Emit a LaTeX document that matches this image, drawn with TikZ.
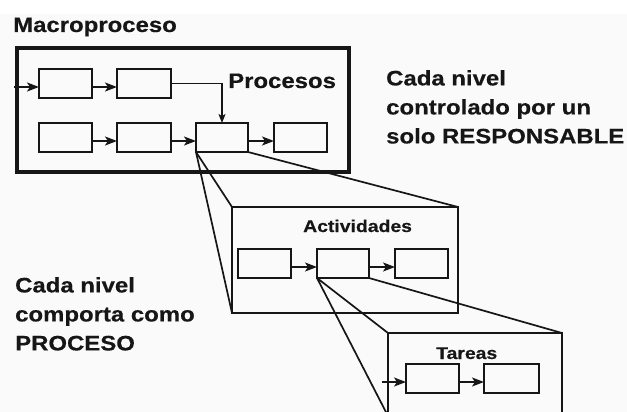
\documentclass[tikz,border=0pt]{standalone}
\usepackage{fontspec}
\newfontfamily\lblfont[FakeStretch=1.14,FakeBold=0.4]{Liberation Sans Bold}
\usetikzlibrary{arrows.meta}
\definecolor{ink}{HTML}{161616}
\tikzset{
  stepbox/.style={draw=ink, line width=2.1pt, minimum height=29pt, inner sep=0pt, outer sep=0pt},
  frame/.style={draw=ink, inner sep=0pt, outer sep=0pt},
  flow/.style={draw=ink, line width=1.8pt, -{Stealth[length=12pt,width=9pt,inset=3pt]}},
  feed/.style={draw=ink, line width=1.1pt, -{Stealth[length=9pt,width=7pt,inset=2pt]}},
  zoomline/.style={draw=ink, line width=1.7pt},
  big/.style={font=\lblfont\fontsize{21}{29}\selectfont, text=ink, inner sep=0pt, align=left},
  small/.style={font=\lblfont\fontsize{17}{20}\selectfont, text=ink, inner sep=0pt}
}
\begin{document}
\begin{tikzpicture}[x=1pt,y=-1pt]
\useasboundingbox (0,0) rectangle (627,412);
\fill[white!98!black] (0,0) rectangle (627,412);
\fill[white] (0,0) rectangle (627,14);
\clip (0,0) rectangle (627,412);

% outer process frame and its title
\node[frame, line width=3.4pt, minimum width=332pt, minimum height=124pt] (macro) at (183,110) {};
\node[big, anchor=base west] (ttl) at (13,32) {Macroproceso};
\node[big, anchor=base west] (proc) at (228,88) {Procesos};

% processes
\node[stepbox, minimum width=53pt] (r1a) at (65.5,83.5) {};
\node[stepbox, minimum width=54pt] (r1b) at (144,83.5) {};
\node[stepbox, minimum width=53pt] (r2a) at (65.5,137.5) {};
\node[stepbox, minimum width=54pt] (r2b) at (144,137.5) {};
\node[stepbox, minimum width=52pt] (r2c) at (222,137.5) {};
\node[stepbox, minimum width=53pt] (r2d) at (300.5,137.5) {};

\coordinate (in1) at (14,87);
\draw[flow] (in1) -- ([yshift=-3.5pt]r1a.west);
\draw[flow] ([yshift=-3.5pt]r1a.east) -- ([yshift=-3.5pt]r1b.west);
\draw[flow] ([yshift=-3.5pt]r2a.east) -- ([yshift=-3.5pt]r2b.west);
\draw[flow] ([yshift=-3.5pt]r2b.east) -- ([yshift=-3.5pt]r2c.west);
\draw[flow] ([yshift=-3.5pt]r2c.east) -- ([yshift=-3.5pt]r2d.west);
\draw[feed] (r1b.east) -| (r2c.north);

% activities level
\node[frame, line width=2.2pt, minimum width=226pt, minimum height=106pt] (act) at (345,260) {};
\draw[zoomline] (r2c.south west) -- (act.north west);
\draw[zoomline] (r2c.south west) -- (act.south west);
\draw[zoomline] (r2c.south east) -- (act.north east);
\node[small, anchor=base west] (acttl) at (303,232) {Actividades};
\node[stepbox, minimum width=53pt] (a1) at (264.5,263.5) {};
\node[stepbox, minimum width=52pt] (a2) at (343,263.5) {};
\node[stepbox, minimum width=53pt] (a3) at (421.5,263.5) {};
\draw[flow] ([yshift=-3.5pt]a1.east) -- ([yshift=-3.5pt]a2.west);
\draw[flow] ([yshift=-3.5pt]a2.east) -- ([yshift=-3.5pt]a3.west);

% tasks level
\node[frame, line width=2.2pt, minimum width=174pt, minimum height=83pt] (tar) at (475,374.5) {};
\draw[zoomline] (a2.south west) -- (tar.north west);
\draw[zoomline] (a2.south west) -- (tar.south west);
\draw[zoomline] (a2.south east) -- (tar.north east);
\node[small, anchor=base west] (tartl) at (436,359) {Tareas};
\node[stepbox, minimum width=53pt] (t1) at (432.5,378.5) {};
\node[stepbox, minimum width=55pt] (t2) at (511.5,378.5) {};
\coordinate (in3) at (382,382);
\draw[flow] (in3) -- ([yshift=-3.5pt]t1.west);
\draw[flow] ([yshift=-3.5pt]t1.east) -- ([yshift=-3.5pt]t2.west);

% notes
\node[big, anchor=north west] (note1) at (386,70) {Cada nivel\\controlado por un\\solo RESPONSABLE};
\node[big, anchor=north west] (note2) at (15,277) {Cada nivel\\comporta como\\PROCESO};
\end{tikzpicture}
\end{document}
